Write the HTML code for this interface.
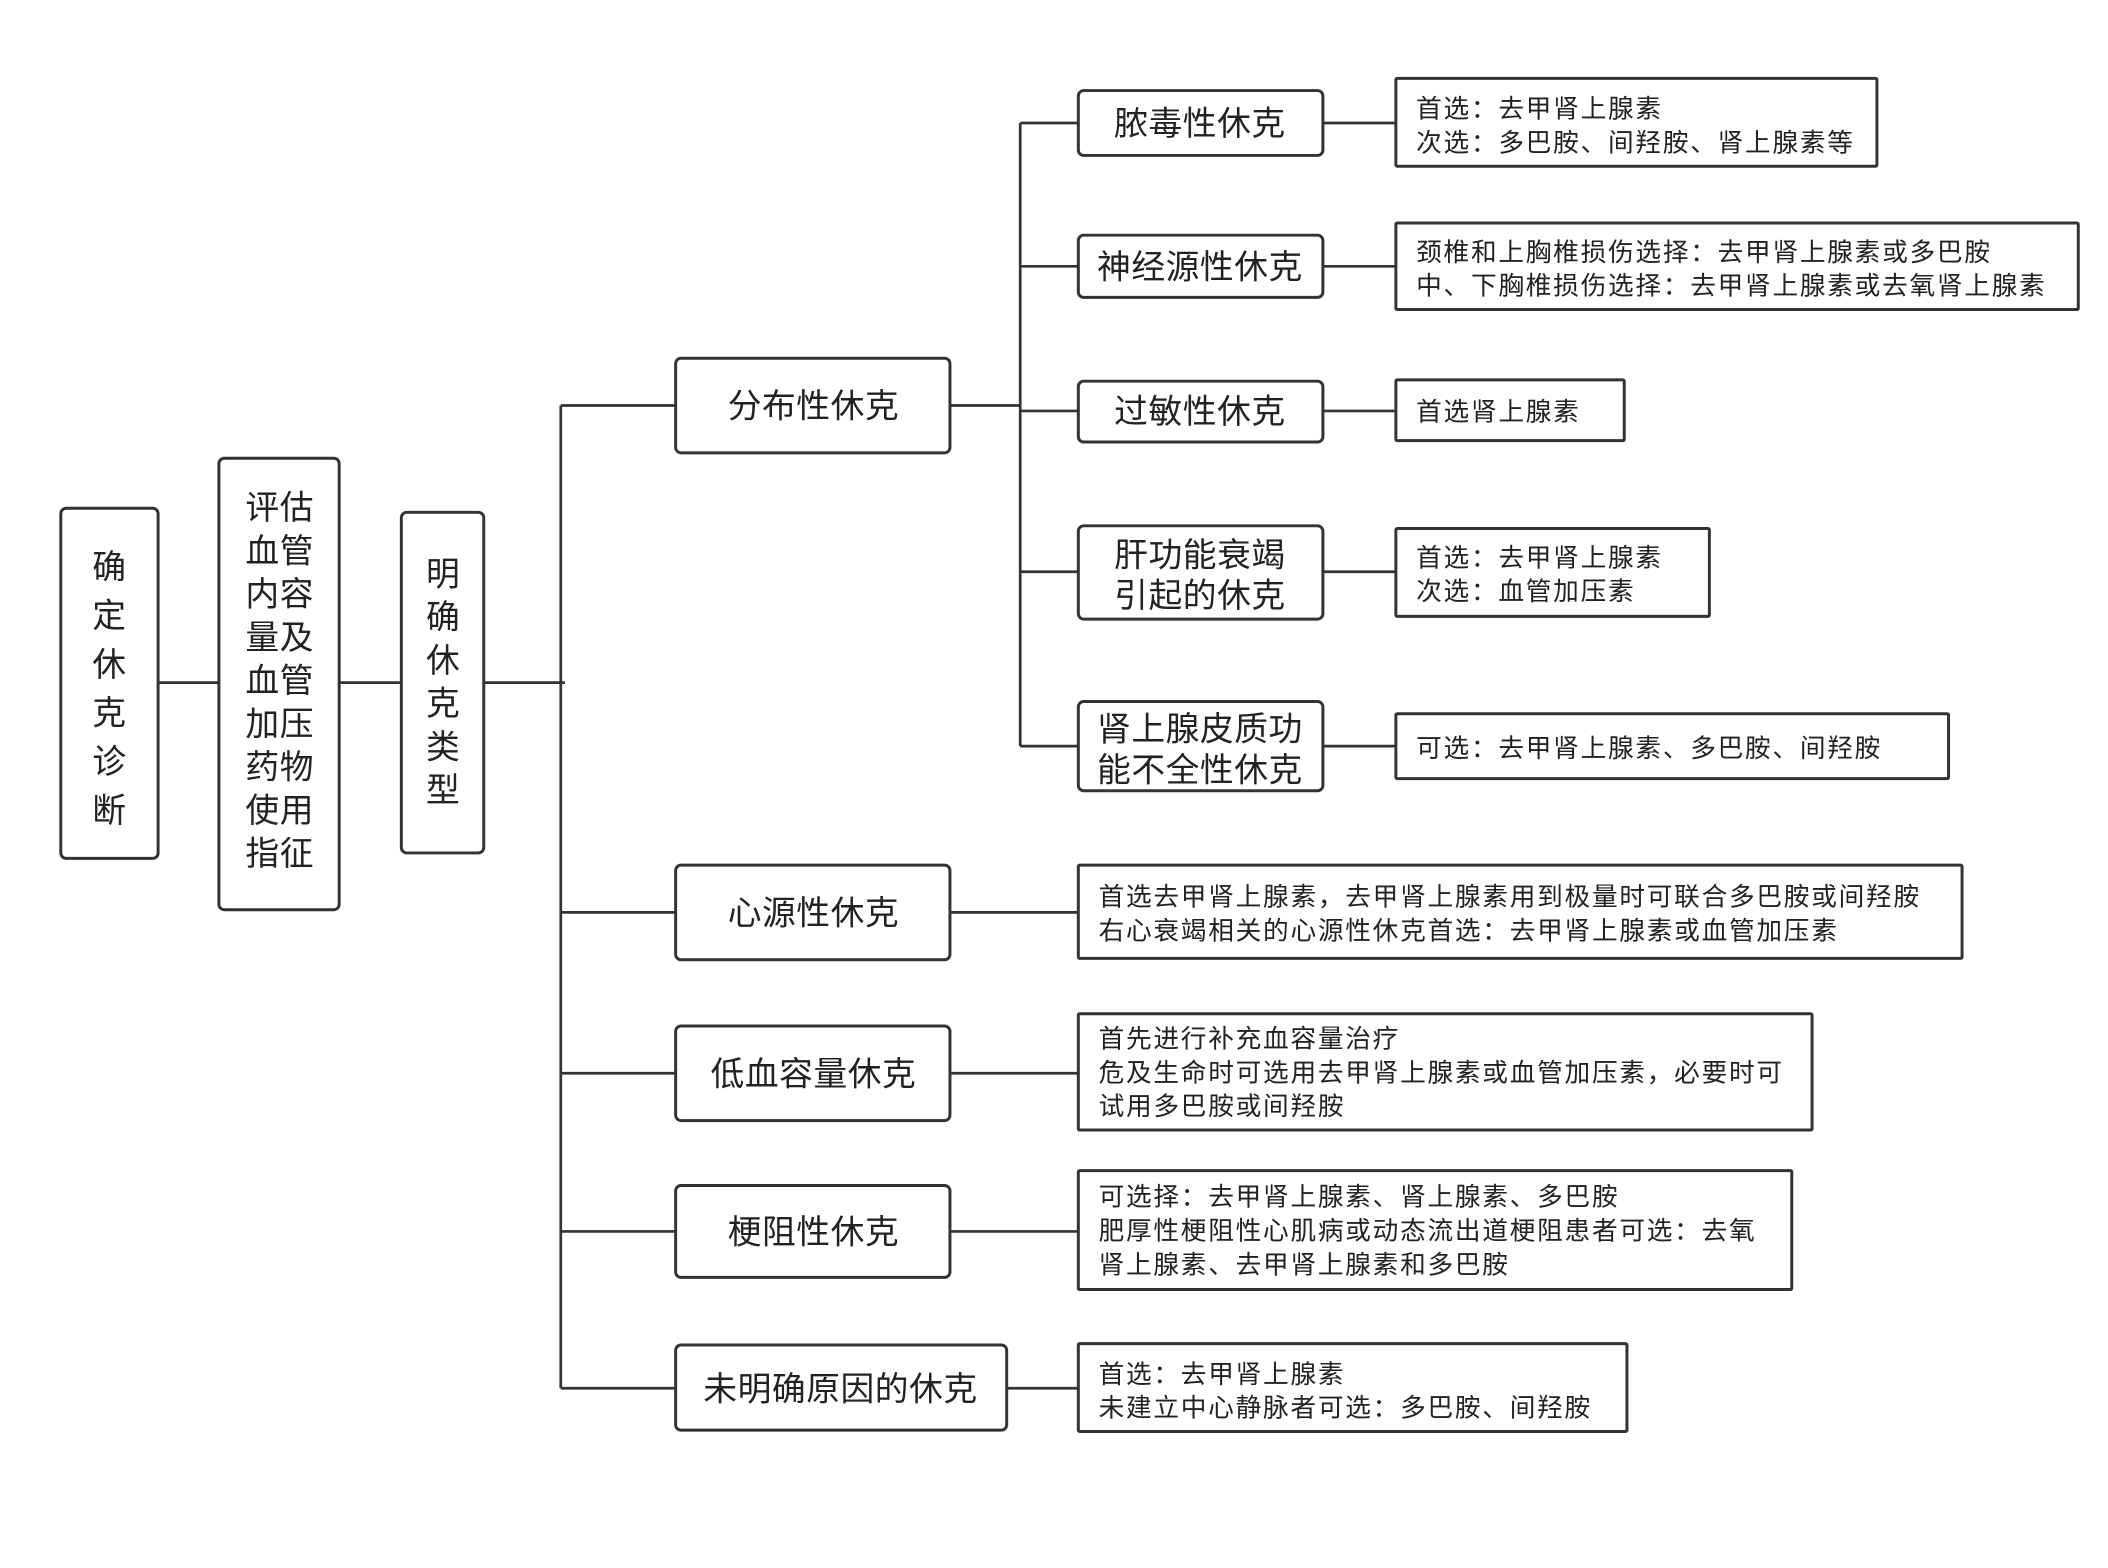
<!DOCTYPE html>
<html><head><meta charset="utf-8"><style>
html,body{margin:0;padding:0;background:#fff;}
svg{display:block}
text{font-family:"Liberation Sans","Noto Sans CJK SC",sans-serif;fill:#222}
.b{fill:#fff;stroke:#333;stroke-width:2.2}
.l{stroke:#333;stroke-width:2;fill:none}
.m{font-size:25px;letter-spacing:0.4px}
.s{font-size:19px;letter-spacing:1.3px}
</style></head><body>
<svg width="2108" height="1568" viewBox="0 0 1560 1160" preserveAspectRatio="none" xmlns="http://www.w3.org/2000/svg">
<path class="l" d="M117 505H162M251 505H297M358 505H418M415 300V1027M415 300H500M415 675H500M415 794H500M415 911H500M415 1027H500"/>
<path class="l" d="M703 300H755M755 91V552M755 91H798M755 197H798M755 304H798M755 423H798M755 552H798"/>
<path class="l" d="M979 91H1033M979 197H1033M979 304H1033M979 423H1033M979 552H1033"/>
<path class="l" d="M703 675H798M703 794H798M703 911H798M745 1027H798"/>
<rect class="b" x="45" y="376" width="72" height="259" rx="4"/>
<g class="m" text-anchor="middle">
<text x="81" y="428">确</text><text x="81" y="464">定</text><text x="81" y="500">休</text><text x="81" y="536">克</text><text x="81" y="572">诊</text><text x="81" y="608">断</text>
</g>
<rect class="b" x="162" y="339" width="89" height="334" rx="4"/>
<g class="m" text-anchor="middle">
<text x="207" y="384">评估</text><text x="207" y="416">血管</text><text x="207" y="448">内容</text><text x="207" y="480">量及</text><text x="207" y="512">血管</text><text x="207" y="544">加压</text><text x="207" y="576">药物</text><text x="207" y="608">使用</text><text x="207" y="640">指征</text>
</g>
<rect class="b" x="297" y="379" width="61" height="252" rx="4"/>
<g class="m" text-anchor="middle">
<text x="328" y="433">明</text><text x="328" y="465">确</text><text x="328" y="497">休</text><text x="328" y="529">克</text><text x="328" y="561">类</text><text x="328" y="593">型</text>
</g>
<g class="m" text-anchor="middle">
<rect class="b" x="500" y="265" width="203" height="70" rx="4"/><text x="602" y="309">分布性休克</text>
<rect class="b" x="500" y="640" width="203" height="70" rx="4"/><text x="602" y="684">心源性休克</text>
<rect class="b" x="500" y="759" width="203" height="70" rx="4"/><text x="602" y="803">低血容量休克</text>
<rect class="b" x="500" y="877" width="203" height="68" rx="4"/><text x="602" y="920">梗阻性休克</text>
<rect class="b" x="500" y="995" width="245" height="63" rx="4"/><text x="622" y="1036">未明确原因的休克</text>
<rect class="b" x="798" y="67" width="181" height="48" rx="4"/><text x="888" y="100">脓毒性休克</text>
<rect class="b" x="798" y="174" width="181" height="46" rx="4"/><text x="888" y="206">神经源性休克</text>
<rect class="b" x="798" y="282" width="181" height="45" rx="4"/><text x="888" y="313">过敏性休克</text>
<rect class="b" x="798" y="389" width="181" height="69" rx="4"/><text x="888" y="419">肝功能衰竭</text><text x="888" y="449">引起的休克</text>
<rect class="b" x="798" y="519" width="181" height="66" rx="4"/><text x="888" y="548">肾上腺皮质功</text><text x="888" y="578">能不全性休克</text>
</g>
<g class="s">
<rect class="b" x="1033" y="58" width="356" height="65" rx="1"/>
<text x="1048" y="87">首选：去甲肾上腺素</text><text x="1048" y="112">次选：多巴胺、间羟胺、肾上腺素等</text>
<rect class="b" x="1033" y="165" width="505" height="64" rx="1"/>
<text x="1048" y="193">颈椎和上胸椎损伤选择：去甲肾上腺素或多巴胺</text><text x="1048" y="218">中、下胸椎损伤选择：去甲肾上腺素或去氧肾上腺素</text>
<rect class="b" x="1033" y="281" width="169" height="45" rx="1"/>
<text x="1048" y="311">首选肾上腺素</text>
<rect class="b" x="1033" y="391" width="232" height="65" rx="1"/>
<text x="1048" y="419">首选：去甲肾上腺素</text><text x="1048" y="444">次选：血管加压素</text>
<rect class="b" x="1033" y="528" width="409" height="48" rx="1"/>
<text x="1048" y="560">可选：去甲肾上腺素、多巴胺、间羟胺</text>
<rect class="b" x="798" y="640" width="654" height="69" rx="1"/>
<text x="813" y="670">首选去甲肾上腺素，去甲肾上腺素用到极量时可联合多巴胺或间羟胺</text><text x="813" y="695">右心衰竭相关的心源性休克首选：去甲肾上腺素或血管加压素</text>
<rect class="b" x="798" y="750" width="543" height="86" rx="1"/>
<text x="813" y="775">首先进行补充血容量治疗</text><text x="813" y="800">危及生命时可选用去甲肾上腺素或血管加压素，必要时可</text><text x="813" y="825">试用多巴胺或间羟胺</text>
<rect class="b" x="798" y="866" width="528" height="88" rx="1"/>
<text x="813" y="892">可选择：去甲肾上腺素、肾上腺素、多巴胺</text><text x="813" y="917">肥厚性梗阻性心肌病或动态流出道梗阻患者可选：去氧</text><text x="813" y="942">肾上腺素、去甲肾上腺素和多巴胺</text>
<rect class="b" x="798" y="994" width="406" height="65" rx="1"/>
<text x="813" y="1023">首选：去甲肾上腺素</text><text x="813" y="1048">未建立中心静脉者可选：多巴胺、间羟胺</text>
</g>
</svg>
</body></html>
